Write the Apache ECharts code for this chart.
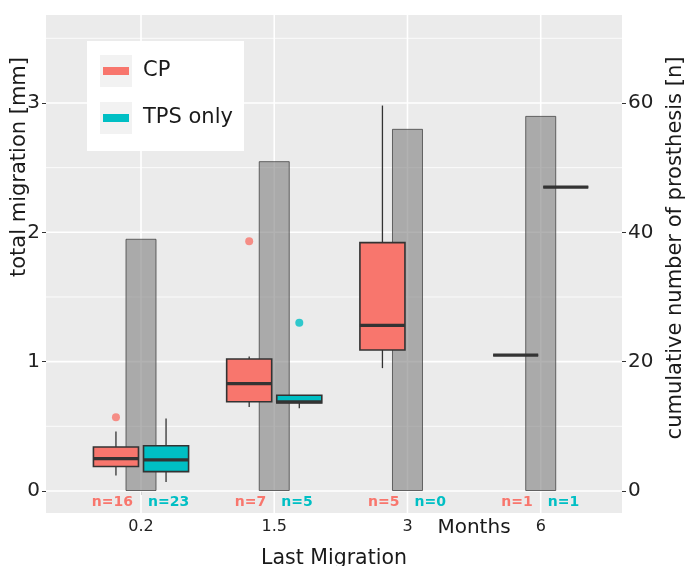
<!DOCTYPE html>
<html>
<head>
<meta charset="utf-8">
<script src="https://cdn.jsdelivr.net/npm/echarts@6/dist/echarts.min.js"></script>
<style>
  html, body { margin: 0; padding: 0; background: #fff; }
  #main { width: 685px; height: 566px; }
</style>
</head>
<body>
<div id="main"></div>
<script>
// data
const months = ['0.2', '1.5', '3', '6'];
const cumulative = [39, 51, 56, 58];
// [lower whisker, q1, median, q3, upper whisker] in mm
const cpStats = [
  [0.12, 0.19, 0.25, 0.34, 0.46],
  [0.65, 0.69, 0.83, 1.02, 1.04],
  [0.95, 1.09, 1.28, 1.92, 2.98],
  [1.05, 1.05, 1.05, 1.05, 1.05]
];
const tpsStats = [
  [0.07, 0.15, 0.24, 0.35, 0.56],
  [0.64, 0.68, 0.69, 0.74, 0.74],
  null,
  [2.35, 2.35, 2.35, 2.35, 2.35]
];
// [month index, value]
const cpOutliers = [[0, 0.57], [1, 1.93]];
const tpsOutliers = [[1, 1.30]];
const nCP = [16, 7, 5, 1];
const nTPS = [23, 5, 0, 1];
const mmBreaks = [0, 1, 2, 3];
const mmMinor = [0.5, 1.5, 2.5, 3.5];
const countBreaks = [0, 20, 40, 60];

const CP_COLOR = '#F8766D';
const TPS_COLOR = '#00BFC4';
const FONT = 'DejaVu Sans';
const X_MIN = 0.287, X_MAX = 4.61;
const Y_MIN = -0.17, Y_MAX = 3.68;
const DODGE = 0.188;   // box offset from month centre
const BOX_W = 0.338;

const chart = echarts.init(document.getElementById('main'), null, { renderer: 'canvas' });

// boxplot drawn by hand so it can sit on a value x axis
function renderBox(color) {
  return function (params, api) {
    const x = api.value(0);
    const lo = api.coord([x, api.value(1)]);
    const q1 = api.coord([x, api.value(2)]);
    const md = api.coord([x, api.value(3)]);
    const q3 = api.coord([x, api.value(4)]);
    const hi = api.coord([x, api.value(5)]);
    const w = api.size([BOX_W, 0])[0];
    const left = md[0] - w / 2;
    return {
      type: 'group',
      children: [
        { type: 'line', shape: { x1: lo[0], y1: lo[1], x2: q1[0], y2: q1[1] }, style: { stroke: '#333', lineWidth: 1.3 } },
        { type: 'line', shape: { x1: q3[0], y1: q3[1], x2: hi[0], y2: hi[1] }, style: { stroke: '#333', lineWidth: 1.3 } },
        { type: 'rect', shape: { x: left, y: q3[1], width: w, height: q1[1] - q3[1] }, style: { fill: color, stroke: '#333', lineWidth: 1.6 } },
        { type: 'line', shape: { x1: left, y1: md[1], x2: left + w, y2: md[1] }, style: { stroke: '#333', lineWidth: 3.2 } }
      ]
    };
  };
}

function renderCount(align, shift, color) {
  return function (params, api) {
    const p = api.coord([api.value(0), -0.09]);
    return {
      type: 'text',
      x: p[0] + shift,
      y: p[1],
      style: {
        text: 'n=' + api.value(1),
        fill: color,
        font: 'bold 14px ' + FONT,
        align: align,
        verticalAlign: 'middle'
      }
    };
  };
}

function renderHLine(width) {
  return function (params, api) {
    const a = api.coord([X_MIN, api.value(0)]);
    const b = api.coord([X_MAX, api.value(0)]);
    return { type: 'line', shape: { x1: a[0], y1: a[1], x2: b[0], y2: b[1] }, style: { stroke: '#fff', lineWidth: width } };
  };
}

const option = {
  backgroundColor: '#ffffff',
  animation: false,
  grid: {
    left: 46, right: 63, top: 15, bottom: 53,
    outerBoundsMode: 'none',
    show: true, backgroundColor: '#EBEBEB', borderWidth: 0
  },
  legend: {
    z: 10,
    left: 87, top: 41,
    orient: 'vertical',
    padding: [18, 20, 20, 16],
    itemGap: 23,
    itemWidth: 26, itemHeight: 8,
    icon: 'rect',
    data: ['CP', 'TPS only'],
    textStyle: { fontFamily: FONT, fontSize: 21, color: '#1a1a1a', lineHeight: 24, padding: [0, 0, 0, 9] }
  },
  graphic: [
    { type: 'rect', z: 8, shape: { x: 87, y: 41, width: 157, height: 110 }, style: { fill: '#fff' } },
    { type: 'rect', z: 9, shape: { x: 100, y: 55, width: 32, height: 32 }, style: { fill: '#F2F2F2' } },
    { type: 'rect', z: 9, shape: { x: 100, y: 102, width: 32, height: 32 }, style: { fill: '#F2F2F2' } },
    {
      type: 'text', z: 10, x: 19.5, y: 167, rotation: Math.PI / 2,
      style: { text: 'total migration [mm]', font: '21px ' + FONT, fill: '#1a1a1a', align: 'center', verticalAlign: 'middle' }
    },
    {
      type: 'text', z: 10, x: 676, y: 248, rotation: Math.PI / 2,
      style: { text: 'cumulative number of prosthesis [n]', font: '21px ' + FONT, fill: '#1a1a1a', align: 'center', verticalAlign: 'middle' }
    },
    {
      type: 'text', z: 10, x: 474, y: 528,
      style: { text: 'Months', font: '20px ' + FONT, fill: '#1a1a1a', align: 'center', verticalAlign: 'middle' }
    }
  ],
  xAxis: {
    type: 'value',
    min: X_MIN, max: X_MAX,
    name: 'Last Migration',
    nameLocation: 'middle',
    nameGap: 35,
    nameTextStyle: { fontFamily: FONT, fontSize: 20.5, color: '#1a1a1a' },
    axisLine: { show: false },
    splitLine: { show: false },
    axisTick: { show: true, customValues: [1, 2, 3, 4], length: 4, lineStyle: { color: '#333' } },
    axisLabel: {
      customValues: [1, 2, 3, 4],
      formatter: function (v) { return months[Math.round(v) - 1]; },
      fontFamily: FONT, fontSize: 16, color: '#222', margin: 6
    }
  },
  yAxis: [
    {
      type: 'value',
      min: Y_MIN, max: Y_MAX,
      axisLine: { show: false },
      splitLine: { show: false },
      axisTick: { show: true, customValues: mmBreaks, length: 4, lineStyle: { color: '#333' } },
      axisLabel: { customValues: mmBreaks, fontFamily: FONT, fontSize: 20, color: '#222', margin: 6 }
    },
    {
      type: 'value',
      min: Y_MIN * 20, max: Y_MAX * 20,
      position: 'right',
      axisLine: { show: false },
      splitLine: { show: false },
      axisTick: { show: true, customValues: countBreaks, length: 4, lineStyle: { color: '#333' } },
      axisLabel: { customValues: countBreaks, fontFamily: FONT, fontSize: 20, color: '#222', margin: 6 }
    }
  ],
  series: [
    {
      type: 'custom', name: 'minor grid', silent: true, z: 1,
      data: mmMinor.map(v => [v]),
      encode: { y: 0 },
      renderItem: renderHLine(0.8)
    },
    {
      type: 'custom', name: 'major grid', silent: true, z: 1,
      data: mmBreaks.map(v => [v]),
      encode: { y: 0 },
      renderItem: renderHLine(1.6)
    },
    {
      type: 'custom', name: 'x grid', silent: true, z: 1,
      data: months.map((m, i) => [i + 1]),
      encode: { x: 0 },
      renderItem: function (params, api) {
        const a = api.coord([api.value(0), Y_MIN]);
        const b = api.coord([api.value(0), Y_MAX]);
        return { type: 'line', shape: { x1: a[0], y1: a[1], x2: b[0], y2: b[1] }, style: { stroke: '#fff', lineWidth: 1.6 } };
      }
    },
    {
      type: 'bar', name: 'cumulative', yAxisIndex: 1, z: 2,
      barWidth: 31,
      data: cumulative.map((c, i) => [i + 1, c]),
      itemStyle: { color: 'rgba(127,127,127,0.6)', borderColor: 'rgba(60,60,60,0.75)', borderWidth: 1 }
    },
    {
      type: 'custom', name: 'CP', z: 3,
      itemStyle: { color: CP_COLOR },
      data: cpStats.map((s, i) => s && [i + 1 - DODGE].concat(s)).filter(Boolean),
      encode: { x: 0, y: [1, 2, 3, 4, 5] },
      renderItem: renderBox(CP_COLOR)
    },
    {
      type: 'custom', name: 'TPS only', z: 3,
      itemStyle: { color: TPS_COLOR },
      data: tpsStats.map((s, i) => s && [i + 1 + DODGE].concat(s)).filter(Boolean),
      encode: { x: 0, y: [1, 2, 3, 4, 5] },
      renderItem: renderBox(TPS_COLOR)
    },
    {
      type: 'scatter', name: 'CP', z: 4, symbolSize: 8,
      itemStyle: { color: CP_COLOR },
      data: cpOutliers.map(o => [o[0] + 1 - DODGE, o[1]])
    },
    {
      type: 'scatter', name: 'TPS only', z: 4, symbolSize: 8,
      itemStyle: { color: TPS_COLOR },
      data: tpsOutliers.map(o => [o[0] + 1 + DODGE, o[1]])
    },
    {
      type: 'custom', name: 'n CP', silent: true, z: 4,
      data: nCP.map((n, i) => [i + 1, n]),
      encode: { x: 0 },
      renderItem: renderCount('right', -8, CP_COLOR)
    },
    {
      type: 'custom', name: 'n TPS', silent: true, z: 4,
      data: nTPS.map((n, i) => [i + 1, n]),
      encode: { x: 0 },
      renderItem: renderCount('left', 7, TPS_COLOR)
    }
  ]
};

chart.setOption(option);
</script>
</body>
</html>
